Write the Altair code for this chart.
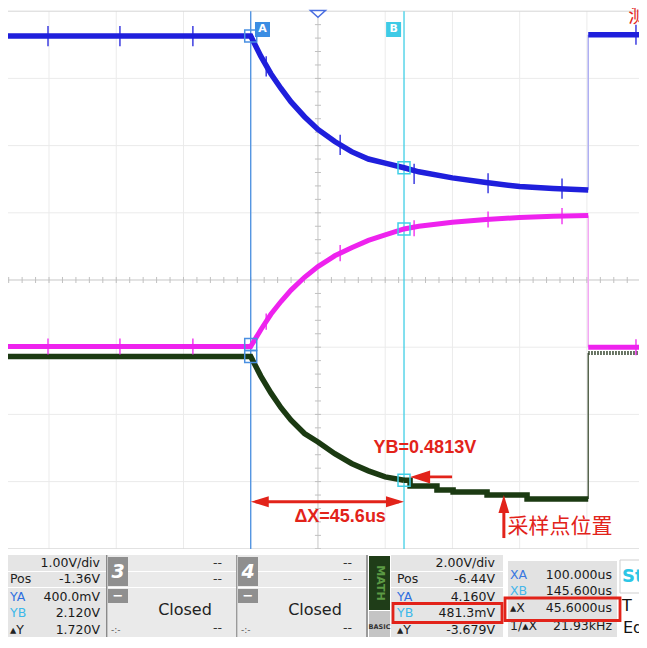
import altair as alt
import pandas as pd

XA, XB = 100.0, 145.6          # cursor A / B times (us)
T_JUMP = 200.4                 # time of the rising edge at the right
T_MIN, T_MAX = 27.8, 215.5     # visible time window (us)
T_CENTER = 120.0               # trigger / centre of screen

# channel settings: (V/div, position offset in V)
BLUE_VDIV, BLUE_POS = 1.00, -0.92
MAG_VDIV, MAG_POS = 1.00, -1.36
MATH_VDIV, MATH_POS = 2.00, -6.44

decay_t = [27.8, 100, 103, 106, 109, 112, 116, 120, 125, 130, 135, 140, 145.6,
           150, 160, 170, 180, 190, 200.4]
blue_v = [4.55, 4.55, 4.25, 3.99, 3.77, 3.57, 3.35, 3.16, 2.98, 2.83, 2.72, 2.66, 2.59,
          2.53, 2.44, 2.37, 2.31, 2.28, 2.26]
mag_v = [0.37, 0.37, 0.62, 0.85, 1.04, 1.21, 1.40, 1.56, 1.72, 1.84, 1.95, 2.03, 2.12,
         2.16, 2.22, 2.26, 2.29, 2.31, 2.32]
math_t = [27.8, 100, 103, 106, 109, 112, 116, 120, 125, 130, 135, 140, 145.6]
math_v = [4.16, 4.16, 3.58, 3.08, 2.64, 2.27, 1.87, 1.62, 1.27, 0.98, 0.76, 0.58, 0.48]
math_step_t = [145.6, 147.4, 155.4, 160.2, 170.3, 182.2, 200.4]
math_step_v = [0.48, 0.31, 0.19, 0.13, 0.04, -0.08, -0.08]
post_t = [200.4, 215.5]
blue_post_v = [4.57, 4.57]
mag_post_v = [0.36, 0.36]
math_post_v = [4.27, 4.27]

spike_t = [39.7, 61.1, 82.8, 104.6, 126.6, 148.6, 170.6, 192.6, 214.6]
blue_spike_v = [4.55, 4.55, 4.55, 4.10, 2.93, 2.50, 2.36, 2.28, 4.57]
mag_spike_v = [0.37, 0.37, 0.37, 0.74, 1.76, 2.13, 2.26, 2.31, 0.36]
BLUE_SPIKE, MAG_SPIKE = 0.15, 0.12

ya_vals = [4.55, 0.400, 4.160]      # blue, magenta, math at cursor A
yb_vals = [2.59, 2.120, 0.4813]     # blue, magenta, math at cursor B

ch2_labels = ["", "Pos", "YA", "YB", "▴Y"]
ch2_values = ["1.00V/div", "-1.36V", "400.0mV", "2.120V", "1.720V"]
math_labels = ["", "Pos", "YA", "YB", "▴Y"]
math_values = ["2.00V/div", "-6.44V", "4.160V", "481.3mV", "-3.679V"]
cur_labels = ["XA", "XB", "▴X", "1/▴X"]
cur_values = ["100.000us", "145.600us", "45.6000us", "21.93kHz"]
closed_text = "Closed"
ann_yb = f"YB={yb_vals[2]:.4f}V"
ann_dx = f"ΔX={XB - XA:.1f}us"
ann_sample = "采样点位置"

# ---------------- styling / layout ----------------
W, H = 631, 629
RED = "#e2231a"
BLUE = "#1f1fdc"
MAG = "#ee22ee"
GREEN = "#1b3a12"
CUR_A = "#4a90e2"
CUR_B = "#3fcfe6"
FONT = "DejaVu Sans"

xs = alt.Scale(domain=[T_MIN, T_MAX], nice=False, zero=False)
ys = alt.Scale(domain=[-5.3125, 4.0476], nice=False, zero=False)


def X(f):
    return alt.X(f + ":Q", scale=xs, axis=None)


def Y(f):
    return alt.Y(f + ":Q", scale=ys, axis=None)


def dv(vs, vdiv, pos):
    return [(v + pos) / vdiv for v in vs]


scope = []

# graticule
gv = pd.DataFrame({"t": [40, 60, 80, 100, 140, 160, 180, 200], "d0": -4.0, "d1": 4.0})
scope.append(alt.Chart(gv).mark_rule(color="#ebebeb").encode(x=X("t"), y=Y("d0"), y2="d1:Q"))
gh = pd.DataFrame({"d": [-3, -2, -1, 1, 2, 3], "t0": T_MIN, "t1": T_MAX})
scope.append(alt.Chart(gh).mark_rule(color="#ebebeb").encode(y=Y("d"), x=X("t0"), x2="t1:Q"))
gb = pd.DataFrame({"d": [-4, 4], "t0": T_MIN, "t1": T_MAX})
scope.append(alt.Chart(gb).mark_rule(color="#d6d6d6").encode(y=Y("d"), x=X("t0"), x2="t1:Q"))
cv = pd.DataFrame({"t": [T_CENTER], "d0": [-4.0], "d1": [4.0]})
scope.append(alt.Chart(cv).mark_rule(color="#c6c6c6").encode(x=X("t"), y=Y("d0"), y2="d1:Q"))
chd = pd.DataFrame({"d": [0.0], "t0": [T_MIN], "t1": [T_MAX]})
scope.append(alt.Chart(chd).mark_rule(color="#c6c6c6").encode(y=Y("d"), x=X("t0"), x2="t1:Q"))
tick_t = [T_CENTER + 4 * k for k in range(-25, 26) if T_MIN <= T_CENTER + 4 * k <= T_MAX]
tt = pd.DataFrame({"t": tick_t, "d0": -0.045, "d1": 0.045})
scope.append(alt.Chart(tt).mark_rule(color="#c0c0c0").encode(x=X("t"), y=Y("d0"), y2="d1:Q"))
tick_d = [0.2 * k for k in range(-20, 21)]
td = pd.DataFrame({"d": tick_d, "t0": T_CENTER - 0.9, "t1": T_CENTER + 0.9})
scope.append(alt.Chart(td).mark_rule(color="#c0c0c0").encode(y=Y("d"), x=X("t0"), x2="t1:Q"))

# cursors
cur = pd.DataFrame({"t": [XA, XB], "d0": -4.03, "d1": 4.0, "c": [CUR_A, CUR_B]})
scope.append(alt.Chart(cur).mark_rule(strokeWidth=1.3).encode(
    x=X("t"), y=Y("d0"), y2="d1:Q", color=alt.Color("c:N", scale=None)))


def trace(ts, vs, vdiv, pos, color, width, **kw):
    df = pd.DataFrame({"t": ts, "d": dv(vs, vdiv, pos)})
    return alt.Chart(df).mark_line(color=color, strokeWidth=width, **kw).encode(
        x=X("t"), y=Y("d"), order="t:Q")


def jump(v0, v1, vdiv, pos, color):
    df = pd.DataFrame({"t": [T_JUMP], "d0": dv([v0], vdiv, pos), "d1": dv([v1], vdiv, pos)})
    return alt.Chart(df).mark_rule(color=color, strokeWidth=1.5).encode(x=X("t"), y=Y("d0"), y2="d1:Q")


def spikes(vs, amp, vdiv, pos, color):
    df = pd.DataFrame({"t": spike_t,
                       "d0": dv([v - amp for v in vs], vdiv, pos),
                       "d1": dv([v + amp for v in vs], vdiv, pos)})
    return alt.Chart(df).mark_rule(color=color, strokeWidth=1.3).encode(x=X("t"), y=Y("d0"), y2="d1:Q")


# edges
scope.append(jump(blue_v[-1], blue_post_v[0], BLUE_VDIV, BLUE_POS, "#aeaef2"))
scope.append(jump(mag_v[-1], mag_post_v[0], MAG_VDIV, MAG_POS, "#f3a8f3"))
scope.append(jump(math_step_v[-1], math_post_v[0], MATH_VDIV, MATH_POS, "#55634c"))

# math (green)
scope.append(trace(math_t, math_v, MATH_VDIV, MATH_POS, GREEN, 5.5))
scope.append(trace(math_step_t, math_step_v, MATH_VDIV, MATH_POS, GREEN, 5.5, interpolate="step-after"))
scope.append(trace(post_t, math_post_v, MATH_VDIV, MATH_POS, "#3a4a33", 4, strokeDash=[1.5, 1.5]))

# magenta
scope.append(spikes(mag_spike_v, MAG_SPIKE, MAG_VDIV, MAG_POS, MAG))
scope.append(trace(decay_t, mag_v, MAG_VDIV, MAG_POS, MAG, 5))
scope.append(trace(post_t, mag_post_v, MAG_VDIV, MAG_POS, MAG, 5))

# blue
scope.append(spikes(blue_spike_v, BLUE_SPIKE, BLUE_VDIV, BLUE_POS, BLUE))
scope.append(trace(decay_t, blue_v, BLUE_VDIV, BLUE_POS, BLUE, 5.5))
scope.append(trace(post_t, blue_post_v, BLUE_VDIV, BLUE_POS, BLUE, 5.5))

# cursor measurement squares
chans = [(BLUE_VDIV, BLUE_POS), (MAG_VDIV, MAG_POS), (MATH_VDIV, MATH_POS)]
mk = pd.DataFrame({
    "t": [XA] * 3 + [XB] * 3,
    "d": [(v + p) / s for v, (s, p) in zip(ya_vals, chans)] + [(v + p) / s for v, (s, p) in zip(yb_vals, chans)],
    "c": [CUR_A] * 3 + [CUR_B] * 3,
})
scope.append(alt.Chart(mk).mark_point(shape="square", filled=False, size=144, strokeWidth=1.5, opacity=1).encode(
    x=X("t"), y=Y("d"), color=alt.Color("c:N", scale=None)))

# cursor badges
bd = pd.DataFrame({"t": [XA + 3.5, XB - 3.1], "d": [3.728, 3.728], "c": ["#3b8de3", "#3fcbe6"], "s": ["A", "B"]})
scope.append(alt.Chart(bd).mark_point(shape="square", filled=True, size=225, opacity=1).encode(
    x=X("t"), y=Y("d"), color=alt.Color("c:N", scale=None)))
scope.append(alt.Chart(bd).mark_text(color="white", fontSize=11, font=FONT, fontWeight="bold").encode(
    x=X("t"), y=Y("d"), text="s:N"))

# trigger marker
trg = pd.DataFrame({"t": [T_CENTER], "d": [3.96]})
scope.append(alt.Chart(trg).mark_point(shape="M-1,-0.45L1,-0.45L0,0.45Z", size=225, filled=True,
                                       fill="white", stroke="#4a6ee0", strokeWidth=1.5, opacity=1).encode(
    x=X("t"), y=Y("d")))

# red annotations
LEFT = "M-1,0L1,-0.6L1,0.6Z"
RIGHT = "M1,0L-1,-0.6L-1,0.6Z"
UP = "M0,-1L0.6,1L-0.6,1Z"
shaft_h = pd.DataFrame({"t0": [XA + 1.5, 150.4], "t1": [XB - 1.5, 159.9], "d": [-3.30, -2.93]})
scope.append(alt.Chart(shaft_h).mark_rule(color=RED, strokeWidth=2.8).encode(x=X("t0"), x2="t1:Q", y=Y("d")))
shaft_v = pd.DataFrame({"t": [175.3], "d0": [-3.84], "d1": [-3.40]})
scope.append(alt.Chart(shaft_v).mark_rule(color=RED, strokeWidth=3).encode(x=X("t"), y=Y("d0"), y2="d1:Q"))
scope.append(alt.Chart(pd.DataFrame({"t": [XA + 2.68], "d": [-3.30]})).mark_point(
    shape=LEFT, size=324, filled=True, color=RED, opacity=1).encode(x=X("t"), y=Y("d")))
scope.append(alt.Chart(pd.DataFrame({"t": [XB - 2.68], "d": [-3.30]})).mark_point(
    shape=RIGHT, size=324, filled=True, color=RED, opacity=1).encode(x=X("t"), y=Y("d")))
scope.append(alt.Chart(pd.DataFrame({"t": [150.4], "d": [-2.93]})).mark_point(
    shape="M-1,0L1,-0.65L1,0.65Z", size=400, filled=True, color=RED, opacity=1).encode(x=X("t"), y=Y("d")))
scope.append(alt.Chart(pd.DataFrame({"t": [175.3], "d": [-3.333]})).mark_point(
    shape=UP, size=324, filled=True, color=RED, opacity=1).encode(x=X("t"), y=Y("d")))

ann = pd.DataFrame({"t": [151.8, 126.6], "d": [-2.50, -3.53], "s": [ann_yb, ann_dx]})
scope.append(alt.Chart(ann).mark_text(color=RED, fontSize=18, fontWeight="bold", font="Liberation Sans").encode(
    x=X("t"), y=Y("d"), text="s:N"))
scope.append(alt.Chart(pd.DataFrame({"t": [176.4], "d": [-3.68], "s": [ann_sample]})).mark_text(
    color=RED, fontSize=21, font="Noto Sans CJK SC", align="left").encode(x=X("t"), y=Y("d"), text="s:N"))
scope.append(alt.Chart(pd.DataFrame({"t": [212.3], "d": [3.91], "s": ["测"]})).mark_text(
    color=RED, fontSize=20, font="Noto Sans CJK SC", align="left").encode(x=X("t"), y=Y("d"), text="s:N"))

# ---------------- bottom status panel ----------------
pxs = alt.Scale(domain=[8, 639], nice=False, zero=False)
pys = alt.Scale(domain=[8, 637], nice=False, zero=False, reverse=True)


def PX(f):
    return alt.X(f + ":Q", scale=pxs, axis=None)


def PY(f):
    return alt.Y(f + ":Q", scale=pys, axis=None)


rects = [
    (8, 639, 549, 637, "#ffffff"),
    # section 1 (CH2 readout)
    (8, 106, 555, 571, "#e5e5e5"), (8, 106, 572, 587, "#e5e5e5"), (8, 106, 588, 637, "#e5e5e5"),
    (106, 107.5, 555, 637, "#8a8a8a"),
    # section 3
    (108, 236, 555, 571, "#eaeaea"), (108, 236, 572, 587, "#eaeaea"), (108, 236, 588, 637, "#eaeaea"),
    (108, 128, 557, 586, "#8f8f8f"), (108, 128, 589, 603, "#8f8f8f"),
    (236, 237.5, 555, 637, "#9a9a9a"),
    # section 4
    (238, 366, 555, 571, "#eaeaea"), (238, 366, 572, 587, "#eaeaea"), (238, 366, 588, 637, "#eaeaea"),
    (238, 258, 557, 586, "#8f8f8f"), (238, 258, 589, 603, "#8f8f8f"),
    (366, 368, 555, 637, "#9a9a9a"),
    # MATH
    (369, 390, 556, 610, "#1f3d18"), (369, 390, 611, 637, "#c4c4c4"),
    (391, 503, 555, 571, "#e5e5e5"), (391, 503, 572, 587, "#e5e5e5"), (391, 503, 588, 637, "#e5e5e5"),
    # cursor readout
    (508, 617, 561, 637, "#e2e2e2"),
    (620, 639, 560, 593, "#ffffff"),
]
rdf = pd.DataFrame(rects, columns=["x0", "x1", "y0", "y1", "c"])
panel = [alt.Chart(rdf).mark_rect().encode(
    x=PX("x0"), x2="x1:Q", y=PY("y0"), y2="y1:Q", fill=alt.Fill("c:N", scale=None))]
frame = pd.DataFrame({"x0": [620], "x1": [640], "y0": [560], "y1": [593]})
panel.append(alt.Chart(frame).mark_rect(fillOpacity=0, stroke="#cfcfcf", strokeWidth=1).encode(
    x=PX("x0"), x2="x1:Q", y=PY("y0"), y2="y1:Q"))

ROW_Y = [563, 579, 597, 613, 630]
CUR_Y = [575, 591, 608, 626]
LBL_C = ["#222222", "#222222", "#2f6fe0", "#3cb8ea", "#222222"]
CUR_C = ["#3a78e0", "#46b6ea", "#222222", "#222222"]

left_txt, right_txt = [], []
for lab, val, y, c in zip(ch2_labels, ch2_values, ROW_Y, LBL_C):
    left_txt.append((10, y, lab, c))
    right_txt.append((100, y, val, "#1a1a1a"))
for lab, val, y, c in zip(math_labels, math_values, ROW_Y, LBL_C):
    left_txt.append((397, y, lab, c))
    right_txt.append((495, y, val, "#1a1a1a"))
for lab, val, y, c in zip(cur_labels, cur_values, CUR_Y, CUR_C):
    left_txt.append((510, y, lab, c))
    right_txt.append((612, y, val, "#1a1a1a"))
for x in (222, 352):
    for y in (563, 579, 628):
        right_txt.append((x, y, "--", "#333333"))

ldf = pd.DataFrame(left_txt, columns=["x", "y", "s", "c"])
rtdf = pd.DataFrame(right_txt, columns=["x", "y", "s", "c"])


def ptext(df, **props):
    return alt.Chart(df).mark_text(baseline="middle", **props).encode(
        x=PX("x"), y=PY("y"), text="s:N", color=alt.Color("c:N", scale=None))


panel.append(ptext(ldf, align="left", font=FONT, fontSize=12.5))
panel.append(ptext(rtdf, align="right", font=FONT, fontSize=12.5))
panel.append(ptext(pd.DataFrame({"x": [118, 248], "y": [571.5, 571.5], "s": ["3", "4"], "c": "white"}),
                   align="center", font=FONT, fontSize=19, fontWeight="bold", fontStyle="italic"))
panel.append(ptext(pd.DataFrame({"x": [118, 248], "y": [596, 596], "s": ["−", "−"], "c": "white"}),
                   align="center", font=FONT, fontSize=13, fontWeight="bold"))
panel.append(ptext(pd.DataFrame({"x": [185, 315], "y": [610, 610], "s": [closed_text] * 2, "c": "#222222"}),
                   align="center", font=FONT, fontSize=16))
panel.append(ptext(pd.DataFrame({"x": [111, 241], "y": [630, 630], "s": ["-:-"] * 2, "c": "#555555"}),
                   align="left", font=FONT, fontSize=9))
panel.append(ptext(pd.DataFrame({"x": [379.5], "y": [583], "s": ["MATH"], "c": "#5c9a44"}),
                   align="center", font=FONT, fontSize=11, fontWeight="bold", angle=90))
panel.append(ptext(pd.DataFrame({"x": [379.5], "y": [627], "s": ["BASIC"], "c": "#333333"}),
                   align="center", font=FONT, fontSize=6.5, fontWeight="bold"))
panel.append(ptext(pd.DataFrame({"x": [622], "y": [577], "s": ["Sto"], "c": "#2cc6e6"}),
                   align="left", font=FONT, fontSize=18, fontWeight="bold"))
panel.append(ptext(pd.DataFrame({"x": [622, 623], "y": [606, 628], "s": ["T", "Ed"], "c": "#111111"}),
                   align="left", font=FONT, fontSize=16))
boxes = pd.DataFrame({"x0": [393, 505], "x1": [502, 620], "y0": [603.5, 598], "y1": [622.5, 620.5]})
panel.append(alt.Chart(boxes).mark_rect(fillOpacity=0, stroke=RED, strokeWidth=2.8).encode(
    x=PX("x0"), x2="x1:Q", y=PY("y0"), y2="y1:Q"))

chart = alt.layer(alt.layer(*scope), alt.layer(*panel)).resolve_scale(
    x="independent", y="independent"
).properties(
    width=W, height=H, autosize=alt.AutoSizeParams(type="none"), padding=0, background="white"
).configure_view(stroke=None)

chart.save("out.html", embed_options={"renderer": "svg", "actions": False})
